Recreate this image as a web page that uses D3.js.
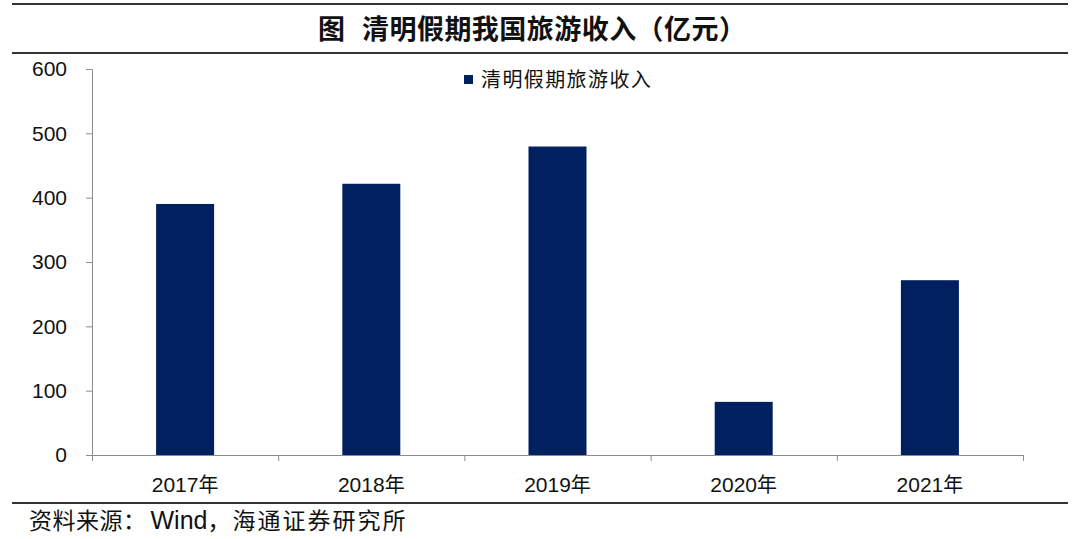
<!DOCTYPE html>
<html><head><meta charset="utf-8">
<script src="https://cdn.jsdelivr.net/npm/d3@7"></script>
<style>body{margin:0;background:#fff}svg{display:block}</style>
</head><body>
<script>
const categories = ["2017年","2018年","2019年","2020年","2021年"];
const values = [390.2, 421.6, 479.5, 82.6, 271.7];
const yTicks = [0,100,200,300,400,500,600];
const seriesName = "清明假期旅游收入";
const titleLead = "图";
const titleMain = "清明假期我国旅游收入（亿元）";
const sourceParts = ["资料来源：", "Wind", "，海通证券研究所"];

const W=1080,H=539;
const svg=d3.select("body").append("svg").attr("width",W).attr("height",H);
const cjk="'Noto Sans CJK SC','Noto Sans CJK JP',sans-serif";
const lat="'Liberation Sans',Arial,sans-serif";

// frame lines
[4,53,503].forEach(yy=>{
  svg.append("line").attr("x1",12).attr("x2",1068).attr("y1",yy).attr("y2",yy).attr("stroke","#333").attr("stroke-width",2);
});

svg.append("text").attr("x",318).attr("y",39)
  .attr("font-family",cjk).attr("font-weight","bold").attr("font-size",27).attr("fill","#111").text(titleLead);
svg.append("text").attr("x",362).attr("y",39).attr("textLength",384).attr("lengthAdjust","spacing")
  .attr("font-family",cjk).attr("font-weight","bold").attr("font-size",27).attr("fill","#111").text(titleMain);

const src=svg.append("text").attr("x",29).attr("y",529).attr("font-size",23).attr("fill","#111");
src.append("tspan").attr("font-family",cjk).attr("letter-spacing",0.5).text(sourceParts[0]);
src.append("tspan").attr("font-family",lat).attr("font-size",25).attr("dx",4).text(sourceParts[1]);
src.append("tspan").attr("font-family",cjk).attr("letter-spacing",2).text(sourceParts[2]);

const xb=d3.scaleBand().domain(categories).range([92,1023]);
const y=d3.scaleLinear().domain([0,600]).range([455,69]);

// bars
svg.selectAll("rect.bar").data(values).join("rect").attr("class","bar")
  .attr("x",(d,i)=>xb(categories[i])+xb.bandwidth()/2-29).attr("width",58)
  .attr("y",d=>y(d)).attr("height",d=>y(0)-y(d)).attr("fill","#002060");

// y axis
const ya=svg.append("g").attr("transform","translate(92,0)")
  .call(d3.axisLeft(y).tickValues(yTicks).tickSize(6).tickPadding(19));
ya.select(".domain").attr("stroke","#8c8c8c").attr("d","M-6,69.5H0.5V455.5");
ya.selectAll(".tick line").attr("stroke","#8c8c8c");
ya.selectAll("text").attr("font-family",lat).attr("font-size",21).attr("fill","#111");

// x axis
const xa=svg.append("g").attr("transform","translate(0,455)");
xa.append("line").attr("x1",92).attr("x2",1024).attr("y1",0.5).attr("y2",0.5).attr("stroke","#8c8c8c");
const bounds=categories.map(c=>xb(c)).concat([xb(categories[4])+xb.bandwidth()]);
xa.selectAll("line.t").data(bounds).join("line").attr("class","t")
  .attr("x1",d=>d+0.5).attr("x2",d=>d+0.5).attr("y1",0).attr("y2",6).attr("stroke","#8c8c8c");
const xl=xa.selectAll("text").data(categories).join("text")
  .attr("x",d=>xb(d)+xb.bandwidth()/2).attr("y",37).attr("text-anchor","middle")
  .attr("font-size",21).attr("fill","#111");
xl.append("tspan").attr("font-family",lat).text(d=>d.slice(0,4));
xl.append("tspan").attr("font-family",cjk).attr("font-size",20).text(d=>d.slice(4));

// legend
svg.append("rect").attr("x",464).attr("y",75).attr("width",9).attr("height",9).attr("fill","#002060");
svg.append("text").attr("x",481).attr("y",87).attr("font-family",cjk).attr("font-size",20).attr("letter-spacing",1.4).attr("fill","#111").text(seriesName);
</script>
</body></html>
